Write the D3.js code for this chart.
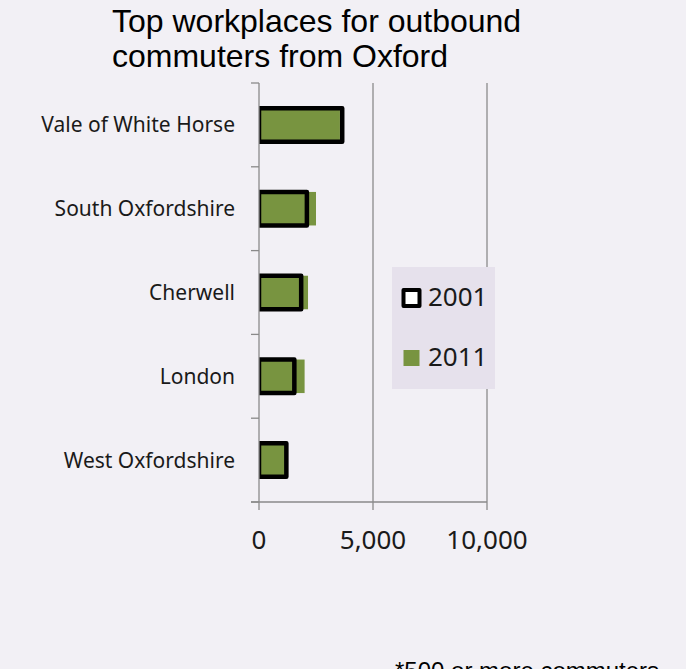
<!DOCTYPE html>
<html>
<head>
<meta charset="utf-8">
<script src="https://cdn.jsdelivr.net/npm/d3@7"></script>
<style>
  html, body { margin: 0; padding: 0; background: #f2f0f5; }
  svg { display: block; }
  .cat-label { font-family: "Noto Sans", sans-serif; font-size: 21px; fill: #1a1a1a; }
  .tick-label { font-family: "Noto Sans", sans-serif; font-size: 26px; fill: #1a1a1a; }
  .title { font-family: "Liberation Sans", Arial, sans-serif; font-size: 32px; fill: #000; }
</style>
</head>
<body>
<svg id="chart" width="686" height="669"></svg>
<script>
const categories = ["Vale of White Horse", "South Oxfordshire", "Cherwell", "London", "West Oxfordshire"];
const values2001 = [3650, 2100, 1850, 1550, 1200];
const values2011 = [3550, 2500, 2150, 2000, 1150];
const xTicks = [0, 5000, 10000];
const seriesNames = ["2001", "2011"];

const GREEN = '#789440';
const GRID = '#8a8a8a';

const plot = { left: 259, right: 487, top: 83, bottom: 502 };

const svg = d3.select('#chart');

const x = d3.scaleLinear().domain([0, 10000]).range([plot.left, plot.right]);
const y = d3.scaleBand().domain(categories).range([plot.top, plot.bottom])
    .paddingInner(0.6).paddingOuter(0.3);
const step = y.step();

// title
svg.append('text').attr('class', 'title').attr('x', 112).attr('y', 32).text('Top workplaces for outbound');
svg.append('text').attr('class', 'title').attr('x', 112).attr('y', 67).text('commuters from Oxford');

// clip for bars
svg.append('clipPath').attr('id', 'plotclip')
    .append('rect')
    .attr('x', plot.left).attr('y', plot.top)
    .attr('width', plot.right - plot.left).attr('height', plot.bottom - plot.top);

// gridlines
svg.append('g').selectAll('line')
    .data(xTicks.slice(1))
    .enter()
    .append('line')
    .attr('x1', d => x(d)).attr('x2', d => x(d))
    .attr('y1', plot.top).attr('y2', plot.bottom)
    .attr('stroke', GRID).attr('stroke-width', 1.3);

const bars = svg.append('g').attr('clip-path', 'url(#plotclip)');

// 2011 filled bars
bars.selectAll('rect.b2011')
    .data(categories)
    .enter()
    .append('rect')
    .classed('b2011', true)
    .attr('x', x(0))
    .attr('y', d => y(d))
    .attr('width', (d, i) => x(values2011[i]) - x(0))
    .attr('height', y.bandwidth())
    .attr('fill', GREEN);

// 2001 outline bars
bars.selectAll('rect.b2001')
    .data(categories)
    .enter()
    .append('rect')
    .classed('b2001', true)
    .attr('x', x(0))
    .attr('y', d => y(d))
    .attr('width', (d, i) => x(values2001[i]) - x(0))
    .attr('height', y.bandwidth())
    .attr('fill', 'none')
    .attr('stroke', '#000')
    .attr('stroke-width', 4.5)
    .attr('stroke-linejoin', 'round');

// y axis
const yAxis = svg.append('g');
yAxis.append('line')
    .attr('x1', plot.left).attr('x2', plot.left)
    .attr('y1', plot.top).attr('y2', plot.bottom)
    .attr('stroke', GRID).attr('stroke-width', 1.3);
const boundaries = d3.range(categories.length + 1).map(i => plot.top + i * step);
yAxis.selectAll('line.tick')
    .data(boundaries)
    .enter()
    .append('line')
    .classed('tick', true)
    .attr('x1', plot.left - 8).attr('x2', plot.left)
    .attr('y1', d => d).attr('y2', d => d)
    .attr('stroke', GRID).attr('stroke-width', 1.3);
yAxis.selectAll('text')
    .data(categories)
    .enter()
    .append('text')
    .attr('class', 'cat-label')
    .attr('x', 235)
    .attr('y', d => y(d) + y.bandwidth() / 2)
    .attr('dy', '0.36em')
    .attr('text-anchor', 'end')
    .text(d => d);

// x axis
const xAxis = svg.append('g');
xAxis.append('line')
    .attr('x1', plot.left - 8).attr('x2', plot.right)
    .attr('y1', plot.bottom).attr('y2', plot.bottom)
    .attr('stroke', GRID).attr('stroke-width', 1.3);
xAxis.selectAll('line.tick')
    .data(xTicks)
    .enter()
    .append('line')
    .classed('tick', true)
    .attr('x1', d => x(d)).attr('x2', d => x(d))
    .attr('y1', plot.bottom).attr('y2', plot.bottom + 8)
    .attr('stroke', GRID).attr('stroke-width', 1.3);
xAxis.selectAll('text')
    .data(xTicks)
    .enter()
    .append('text')
    .attr('class', 'tick-label')
    .attr('x', d => x(d))
    .attr('y', 549)
    .attr('text-anchor', 'middle')
    .text(d => d3.format(',')(d));

// legend
const legend = svg.append('g');
legend.append('rect')
    .attr('x', 392).attr('y', 267)
    .attr('width', 103).attr('height', 122)
    .attr('fill', '#e6e1ec');
const items = legend.selectAll('g.item')
    .data(seriesNames)
    .enter()
    .append('g')
    .classed('item', true)
    .attr('transform', (d, i) => `translate(0, ${298 + i * 60})`);
items.append('rect')
    .attr('x', 403.5).attr('y', -8)
    .attr('width', 16).attr('height', 16)
    .attr('fill', (d, i) => i === 0 ? '#fff' : GREEN)
    .attr('stroke', (d, i) => i === 0 ? '#000' : 'none')
    .attr('stroke-width', 4)
    .attr('stroke-linejoin', 'round');
items.append('text')
    .attr('class', 'tick-label')
    .attr('x', 428)
    .attr('y', 8)
    .text(d => d);

// footnote (cut off at the bottom edge, as in the source)
svg.append('text')
    .attr('x', 395).attr('y', 679)
    .attr('font-family', '"Liberation Sans", Arial, sans-serif')
    .attr('font-size', 24)
    .text('*500 or more commuters');
</script>
</body>
</html>
